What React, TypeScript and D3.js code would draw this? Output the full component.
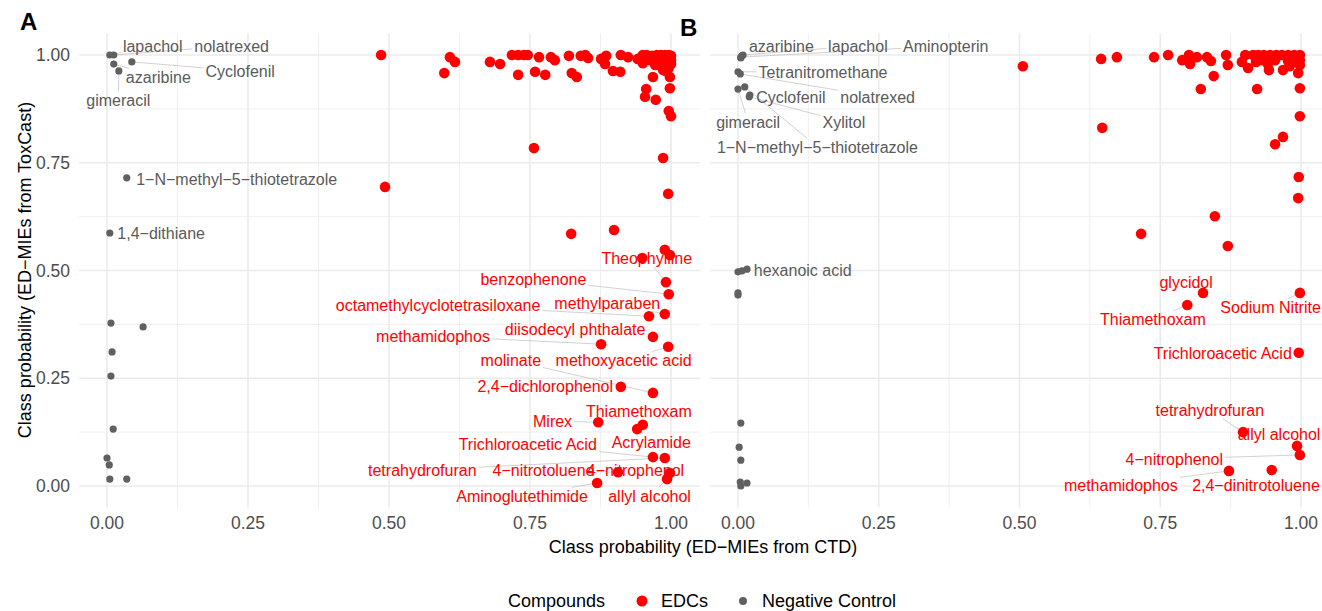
import * as d3 from "d3";
import React from "react";

// ---- data: [x = CTD prob, y = ToxCast prob] ----

// panel A
const edcA: [number, number][] = [
  [0.486, 1.0], [0.608, 0.995], [0.617, 0.984], [0.598, 0.958], [0.679, 0.984],
  [0.697, 0.979], [0.718, 1.0], [0.729, 1.0], [0.739, 1.0], [0.746, 1.0],
  [0.729, 0.954], [0.759, 0.961], [0.766, 0.995], [0.777, 0.954], [0.787, 0.995],
  [0.794, 0.988], [0.819, 0.998], [0.824, 0.958], [0.833, 0.949], [0.84, 0.998],
  [0.848, 1.0], [0.853, 0.993], [0.876, 0.991], [0.885, 0.998], [0.883, 0.979],
  [0.897, 0.963], [0.91, 0.961], [0.911, 1.0], [0.924, 0.995], [0.941, 0.991],
  [0.95, 1.0], [0.95, 0.981], [0.957, 1.0], [0.966, 0.998], [0.975, 1.0],
  [0.982, 1.0], [0.989, 1.0], [0.996, 1.0], [1.0, 0.998], [1.0, 0.988],
  [1.0, 0.979], [0.996, 0.97], [0.991, 0.963], [0.977, 0.988], [0.984, 0.984],
  [0.991, 0.988], [0.972, 0.977], [0.984, 0.972], [0.963, 0.988], [0.968, 0.949],
  [0.986, 0.965], [0.998, 0.949], [0.998, 0.923], [0.956, 0.921], [0.954, 0.903],
  [0.973, 0.896], [0.996, 0.87], [1.0, 0.858], [0.757, 0.784], [0.986, 0.761],
  [0.493, 0.694], [0.995, 0.678], [0.899, 0.594], [0.823, 0.585], [0.989, 0.548],
  [0.998, 0.536], [0.949, 0.529],
];

const edcNamedA: [string, number, number][] = [
  ["Theophylline", 0.991, 0.473],
  ["benzophenone", 0.996, 0.445],
  ["octamethylcyclotetrasiloxane", 0.961, 0.394],
  ["methylparaben", 0.989, 0.399],
  ["diisodecyl phthalate", 0.968, 0.346],
  ["methamidophos", 0.876, 0.329],
  ["methoxyacetic acid", 0.995, 0.323],
  ["molinate", 0.968, 0.216],
  ["2,4\u2212dichlorophenol", 0.911, 0.23],
  ["Thiamethoxam", 0.95, 0.142],
  ["Acrylamide", 0.94, 0.132],
  ["Mirex", 0.871, 0.148],
  ["Trichloroacetic Acid", 0.968, 0.067],
  ["tetrahydrofuran", 0.989, 0.065],
  ["4\u2212nitrotoluene", 0.906, 0.032],
  ["4\u2212nitrophenol", 0.998, 0.03],
  ["Aminoglutethimide", 0.869, 0.007],
  ["allyl alcohol", 0.993, 0.016],
];

const negA: [number, number][] = [
  [0.007, 0.378], [0.064, 0.369], [0.009, 0.311], [0.007, 0.255], [0.011, 0.132],
  [0.0, 0.065], [0.004, 0.049], [0.005, 0.016], [0.035, 0.016],
];

const negNamedA: [string, number, number][] = [
  ["lapachol", 0.005, 1.0],
  ["nolatrexed", 0.012, 1.0],
  ["azaribine", 0.012, 0.979],
  ["gimeracil", 0.021, 0.963],
  ["Cyclofenil", 0.044, 0.984],
  ["1\u2212N\u2212methyl\u22125\u2212thiotetrazole", 0.035, 0.715],
  ["1,4\u2212dithiane", 0.005, 0.587],
];

// panel B
const edcB: [number, number][] = [
  [0.506, 0.974], [0.645, 0.991], [0.673, 0.995], [0.739, 0.995], [0.764, 1.0],
  [0.789, 0.988], [0.801, 1.0], [0.803, 0.979], [0.815, 0.995], [0.833, 0.995],
  [0.84, 0.986], [0.845, 0.951], [0.822, 0.921], [0.867, 1.0], [0.87, 0.977],
  [0.895, 0.984], [0.901, 1.0], [0.906, 0.97], [0.915, 1.0], [0.922, 0.921],
  [0.943, 0.965], [0.968, 0.965], [0.995, 0.958], [0.998, 0.923], [0.924, 1.0],
  [0.934, 1.0], [0.945, 1.0], [0.956, 1.0], [0.966, 1.0], [0.977, 1.0],
  [0.988, 1.0], [0.998, 1.0], [0.998, 0.988], [0.998, 0.977], [0.931, 0.988],
  [0.954, 0.988], [0.977, 0.986], [0.995, 0.984], [0.941, 0.979], [0.98, 0.974],
  [0.92, 0.984], [0.998, 0.858], [0.968, 0.81], [0.954, 0.793], [0.647, 0.831],
  [0.996, 0.717], [0.995, 0.668], [0.847, 0.626], [0.716, 0.585], [0.87, 0.557],
];

const edcNamedB: [string, number, number][] = [
  ["glycidol", 0.826, 0.448],
  ["Sodium Nitrite", 0.998, 0.448],
  ["Thiamethoxam", 0.798, 0.42],
  ["Trichloroacetic Acid", 0.996, 0.309],
  ["tetrahydrofuran", 0.897, 0.125],
  ["allyl alcohol", 0.993, 0.093],
  ["4\u2212nitrophenol", 0.998, 0.072],
  ["methamidophos", 0.872, 0.035],
  ["2,4\u2212dinitrotoluene", 0.948, 0.037],
];

const negB: [number, number][] = [
  [0.005, 0.993], [0.0, 0.448], [0.0, 0.443], [0.005, 0.146], [0.002, 0.09],
  [0.005, 0.06], [0.004, 0.009], [0.016, 0.007], [0.005, 0.0], [0.0, 0.497],
  [0.007, 0.499],
];

const negNamedB: [string, number, number][] = [
  ["azaribine", 0.007, 0.998],
  ["lapachol", 0.009, 1.0],
  ["Aminopterin", 0.005, 0.995],
  ["Tetranitromethane", 0.0, 0.961],
  ["nolatrexed", 0.004, 0.956],
  ["gimeracil", 0.0, 0.921],
  ["1\u2212N\u2212methyl\u22125\u2212thiotetrazole", 0.012, 0.926],
  ["Cyclofenil", 0.021, 0.907],
  ["Xylitol", 0.02, 0.903],
  ["hexanoic acid", 0.016, 0.503],
];

// where the repelled labels ended up (label centre, data units)
const labelSpotsA: Record<string, [number, number]> = {
  "Theophylline": [0.957, 0.529],
  "benzophenone": [0.756, 0.48],
  "octamethylcyclotetrasiloxane": [0.587, 0.42],
  "methylparaben": [0.887, 0.425],
  "diisodecyl phthalate": [0.83, 0.364],
  "methamidophos": [0.578, 0.348],
  "methoxyacetic acid": [0.916, 0.292],
  "molinate": [0.716, 0.292],
  "2,4\u2212dichlorophenol": [0.777, 0.232],
  "Thiamethoxam": [0.943, 0.174],
  "Acrylamide": [0.965, 0.102],
  "Mirex": [0.79, 0.151],
  "Trichloroacetic Acid": [0.746, 0.097],
  "tetrahydrofuran": [0.559, 0.037],
  "4\u2212nitrotoluene": [0.774, 0.037],
  "4\u2212nitrophenol": [0.937, 0.037],
  "Aminoglutethimide": [0.736, -0.023],
  "allyl alcohol": [0.962, -0.023],
  "lapachol": [0.081, 1.021],
  "nolatrexed": [0.221, 1.021],
  "azaribine": [0.091, 0.949],
  "gimeracil": [0.02, 0.896],
  "Cyclofenil": [0.236, 0.963],
  "1\u2212N\u2212methyl\u22125\u2212thiotetrazole": [0.23, 0.712],
  "1,4\u2212dithiane": [0.096, 0.587],
};

const labelSpotsB: Record<string, [number, number]> = {
  "glycidol": [0.796, 0.473],
  "Sodium Nitrite": [0.946, 0.415],
  "Thiamethoxam": [0.737, 0.387],
  "Trichloroacetic Acid": [0.861, 0.309],
  "tetrahydrofuran": [0.838, 0.176],
  "allyl alcohol": [0.961, 0.121],
  "4\u2212nitrophenol": [0.775, 0.063],
  "methamidophos": [0.68, 0.002],
  "2,4\u2212dinitrotoluene": [0.92, 0.002],
  "azaribine": [0.077, 1.021],
  "lapachol": [0.213, 1.021],
  "Aminopterin": [0.369, 1.021],
  "Tetranitromethane": [0.151, 0.961],
  "nolatrexed": [0.248, 0.903],
  "gimeracil": [0.018, 0.845],
  "1\u2212N\u2212methyl\u22125\u2212thiotetrazole": [0.141, 0.787],
  "Cyclofenil": [0.094, 0.903],
  "Xylitol": [0.188, 0.845],
  "hexanoic acid": [0.115, 0.501],
};

const ticks = [0, 0.25, 0.5, 0.75, 1];
const minorTicks = [0.125, 0.375, 0.625, 0.875];
const legendItems = [
  { label: "EDCs", color: "#FF0000", r: 5.5 },
  { label: "Negative Control", color: "#606060", r: 4 },
];

const FONT = '"Liberation Sans", Arial, Helvetica, sans-serif';
const RED = "#FF0000";
const GREY = "#606060";
const LABEL_SIZE = 16;

let ctx: CanvasRenderingContext2D | null = null;
function textWidth(s: string, size: number) {
  if (!ctx) ctx = document.createElement("canvas").getContext("2d");
  if (!ctx) return s.length * size * 0.5;
  ctx.font = `${size}px ${FONT}`;
  return ctx.measureText(s).width;
}

// clip the line point->label centre at the label box
function segmentEnd(px: number, py: number, cx: number, cy: number, w: number, h: number) {
  const dx = px - cx;
  const dy = py - cy;
  const hw = w / 2 + 2;
  const hh = h / 2 + 1;
  if (Math.abs(dx) <= hw && Math.abs(dy) <= hh) return null;
  const t = Math.min(
    dx !== 0 ? hw / Math.abs(dx) : Infinity,
    dy !== 0 ? hh / Math.abs(dy) : Infinity
  );
  return [cx + dx * t, cy + dy * t];
}

interface PanelProps {
  left: number;
  right: number;
  x0: number;
  x1: number;
  edc: [number, number][];
  edcNamed: [string, number, number][];
  neg: [number, number][];
  negNamed: [string, number, number][];
  spots: Record<string, [number, number]>;
  yLabels: boolean;
}

const top = 33.5;
const bottom = 507.5;

const Panel: React.FC<PanelProps> = ({
  left, right, x0, x1, edc, edcNamed, neg, negNamed, spots, yLabels,
}) => {
  const x = d3.scaleLinear().domain([0, 1]).range([x0, x1]);
  const y = d3.scaleLinear().domain([0, 1]).range([486, 55]);

  const labelled = [
    ...edcNamed.map((d) => ({ d, color: RED })),
    ...negNamed.map((d) => ({ d, color: GREY })),
  ];

  return (
    <g>
      {minorTicks.map((t) => (
        <g key={"m" + t}>
          <line x1={x(t)} x2={x(t)} y1={top} y2={bottom} stroke="#ebebeb" strokeWidth={0.8} />
          <line x1={left} x2={right} y1={y(t)} y2={y(t)} stroke="#ebebeb" strokeWidth={0.8} />
        </g>
      ))}
      {ticks.map((t) => (
        <g key={"M" + t}>
          <line x1={x(t)} x2={x(t)} y1={top} y2={bottom} stroke="#ebebeb" strokeWidth={1.6} />
          <line x1={left} x2={right} y1={y(t)} y2={y(t)} stroke="#ebebeb" strokeWidth={1.6} />
          <text x={x(t)} y={529} textAnchor="middle" fontSize={17.5} fill="#4d4d4d">
            {d3.format(".2f")(t)}
          </text>
          {yLabels && (
            <text x={left - 9} y={y(t) + 6} textAnchor="end" fontSize={17.5} fill="#4d4d4d">
              {d3.format(".2f")(t)}
            </text>
          )}
        </g>
      ))}

      {labelled.map(({ d }) => {
        const [name, vx, vy] = d;
        const spot = spots[name];
        const cx = x(spot[0]);
        const cy = y(spot[1]);
        const w = textWidth(name, LABEL_SIZE);
        const end = segmentEnd(x(vx), y(vy), cx, cy, w, LABEL_SIZE * 0.95);
        if (!end) return null;
        const len = Math.hypot(end[0] - x(vx), end[1] - y(vy));
        if (len < 10) return null;
        return (
          <line key={"s" + name} x1={x(vx)} y1={y(vy)} x2={end[0]} y2={end[1]}
            stroke="#bdbdbd" strokeWidth={0.7} />
        );
      })}

      {edc.map((d, i) => (
        <circle key={"e" + i} cx={x(d[0])} cy={y(d[1])} r={5.3} fill={RED} />
      ))}
      {edcNamed.map((d) => (
        <circle key={"en" + d[0]} cx={x(d[1])} cy={y(d[2])} r={5.3} fill={RED} />
      ))}
      {neg.map((d, i) => (
        <circle key={"n" + i} cx={x(d[0])} cy={y(d[1])} r={3.6} fill={GREY} />
      ))}
      {negNamed.map((d) => (
        <circle key={"nn" + d[0]} cx={x(d[1])} cy={y(d[2])} r={3.6} fill={GREY} />
      ))}

      {labelled.map(({ d, color }) => {
        const spot = spots[d[0]];
        return (
          <text key={"t" + d[0]} x={x(spot[0])} y={y(spot[1]) + LABEL_SIZE * 0.36}
            textAnchor="middle" fontSize={LABEL_SIZE} fill={color === RED ? RED : "#5a5a5a"}>
            {d[0]}
          </text>
        );
      })}
    </g>
  );
};

export default function App() {
  return (
    <svg width={1322} height={611} style={{ display: "block", position: "absolute", left: 0, top: 0 }}
      fontFamily={FONT}>
      <rect width={1322} height={611} fill="#fff" />
      <Panel left={79} right={700} x0={107} x1={671} edc={edcA} edcNamed={edcNamedA}
        neg={negA} negNamed={negNamedA} spots={labelSpotsA} yLabels={true} />
      <Panel left={710} right={1322} x0={738} x1={1301} edc={edcB} edcNamed={edcNamedB}
        neg={negB} negNamed={negNamedB} spots={labelSpotsB} yLabels={false} />

      <text x={20} y={30} fontSize={24} fontWeight="bold">A</text>
      <text x={680} y={36} fontSize={24} fontWeight="bold">B</text>

      <text transform="translate(31,270) rotate(-90)" textAnchor="middle" fontSize={18}>
        Class probability (ED{"\u2212"}MIEs from ToxCast)
      </text>
      <text x={703} y={553} textAnchor="middle" fontSize={18}>
        Class probability (ED{"\u2212"}MIEs from CTD)
      </text>

      <text x={508} y={607} fontSize={18}>Compounds</text>
      {legendItems.map((it, i) => {
        const cx = i === 0 ? 642 : 743;
        return (
          <g key={it.label}>
            <circle cx={cx} cy={601} r={it.r} fill={it.color} />
            <text x={cx + 19} y={607} fontSize={18}>{it.label}</text>
          </g>
        );
      })}
    </svg>
  );
}
